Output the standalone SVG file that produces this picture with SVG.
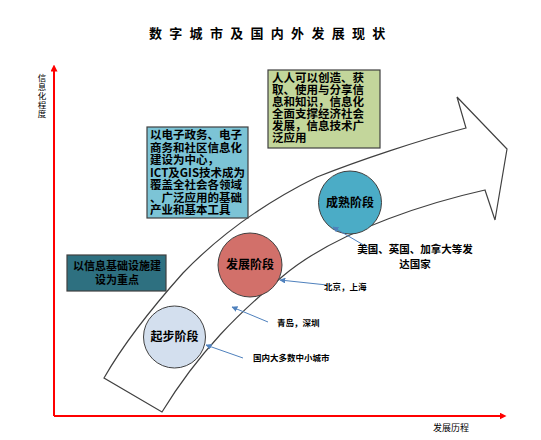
<svg xmlns="http://www.w3.org/2000/svg" width="541" height="440" viewBox="0 0 541 440">
<defs>
<style>
.t{font-family:"Noto Sans CJK SC","Liberation Sans",sans-serif;font-weight:bold;fill:#000}
.box{stroke:#404040;stroke-width:1.2}
.circ{stroke:#404040;stroke-width:1}
.call{stroke:#4f81bd;stroke-width:1;fill:none;marker-end:url(#ba)}
.axis{stroke:#ff0000;stroke-width:2;fill:none}
</style>
<marker id="ba" viewBox="0 0 10 10" refX="9" refY="5" markerWidth="6" markerHeight="6" orient="auto" markerUnits="userSpaceOnUse"><path d="M0,0 L10,5 L0,10 z" fill="#4f81bd"/></marker>
<marker id="ra" viewBox="0 0 10 10" refX="5" refY="5" markerWidth="7" markerHeight="7" orient="auto" markerUnits="userSpaceOnUse"><path d="M0,0 L10,5 L0,10 z" fill="#ff0000"/></marker>
</defs>
<rect width="541" height="440" fill="#fff"/>
<text class="t" x="149" y="38" font-size="13" letter-spacing="7.3">数字城市及国内外发展现状</text>
<g id="axes">
<path class="axis" d="M54,416 L54,68" marker-end="url(#ra)"/>
<path class="axis" d="M54,416 L503,416" marker-end="url(#ra)"/>
<text class="t" style="font-weight:normal" font-size="8.5" text-anchor="middle" x="42 42 42 42 42" y="81 90 99 108 117">信息化程度</text>
<text class="t" style="font-weight:normal" font-size="9" x="433" y="431">发展历程</text>
</g>
<g id="bigarrow">
<path d="M104,378 C120,350 150,310 183,273 C210,245 250,210 317,177 C360,160 420,140 466,128 L457,97 L507,149 L495,220 L485,190 C440,200 340,228 283,276 C240,312 200,350 162,412 Z" fill="#fff" stroke="#404040" stroke-width="1.2"/>
</g>
<g id="box-green">
<rect class="box" x="268" y="70" width="112" height="78" fill="#c3d69b"/>
<text class="t" font-size="11.5"><tspan x="272" y="82">人人可以创造、获</tspan><tspan x="272" y="94">取、使用与分享信</tspan><tspan x="272" y="106">息和知识，信息化</tspan><tspan x="272" y="118">全面支撑经济社会</tspan><tspan x="272" y="130">发展，信息技术广</tspan><tspan x="272" y="142">泛应用</tspan></text>
</g>
<g id="box-blue">
<rect class="box" x="147" y="127" width="101" height="91" fill="#7cc4d6"/>
<text class="t" font-size="11.5"><tspan x="150" y="139">以电子政务、电子</tspan><tspan x="150" y="151.5">商务和社区信息化</tspan><tspan x="150" y="164">建设为中心，</tspan><tspan x="150" y="176.5">ICT及GIS技术成为</tspan><tspan x="150" y="189">覆盖全社会各领域</tspan><tspan x="150" y="201.5">、广泛应用的基础</tspan><tspan x="150" y="214">产业和基本工具</tspan></text>
</g>
<g id="box-teal">
<rect class="box" x="67" y="255" width="99" height="36" fill="#2e7080"/>
<text class="t" font-size="11" text-anchor="middle"><tspan x="117" y="270">以信息基础设施建</tspan><tspan x="117" y="284">设为重点</tspan></text>
</g>
<g id="stage-1">
<circle class="circ" cx="174.5" cy="337" r="31" fill="#d3dfee"/>
<text class="t" font-size="12" text-anchor="middle" x="174.5" y="341">起步阶段</text>
</g>
<g id="stage-2">
<circle class="circ" cx="250" cy="265" r="32" fill="#d2706a"/>
<text class="t" font-size="12" text-anchor="middle" x="250" y="269">发展阶段</text>
</g>
<g id="stage-3">
<circle class="circ" cx="350" cy="202.5" r="31.5" fill="#4bacc6"/>
<text class="t" font-size="12" text-anchor="middle" x="350" y="206.5">成熟阶段</text>
</g>
<g id="connectors">
<path class="call" d="M372,250 L333,227"/>
<path class="call" d="M327,285 L280,280"/>
<path class="call" d="M268,322 L232,307"/>
<path class="call" d="M243,358 L206,345"/>
</g>
<g id="labels">
<text class="t" font-size="10.5" text-anchor="middle"><tspan x="415" y="253">美国、英国、加拿大等发</tspan><tspan x="415" y="268">达国家</tspan></text>
<text class="t" font-size="8.5" x="324" y="290">北京，上海</text>
<text class="t" font-size="8.5" x="277" y="326">青岛，深圳</text>
<text class="t" font-size="8.5" x="253" y="361">国内大多数中小城市</text>
</g>
</svg>
